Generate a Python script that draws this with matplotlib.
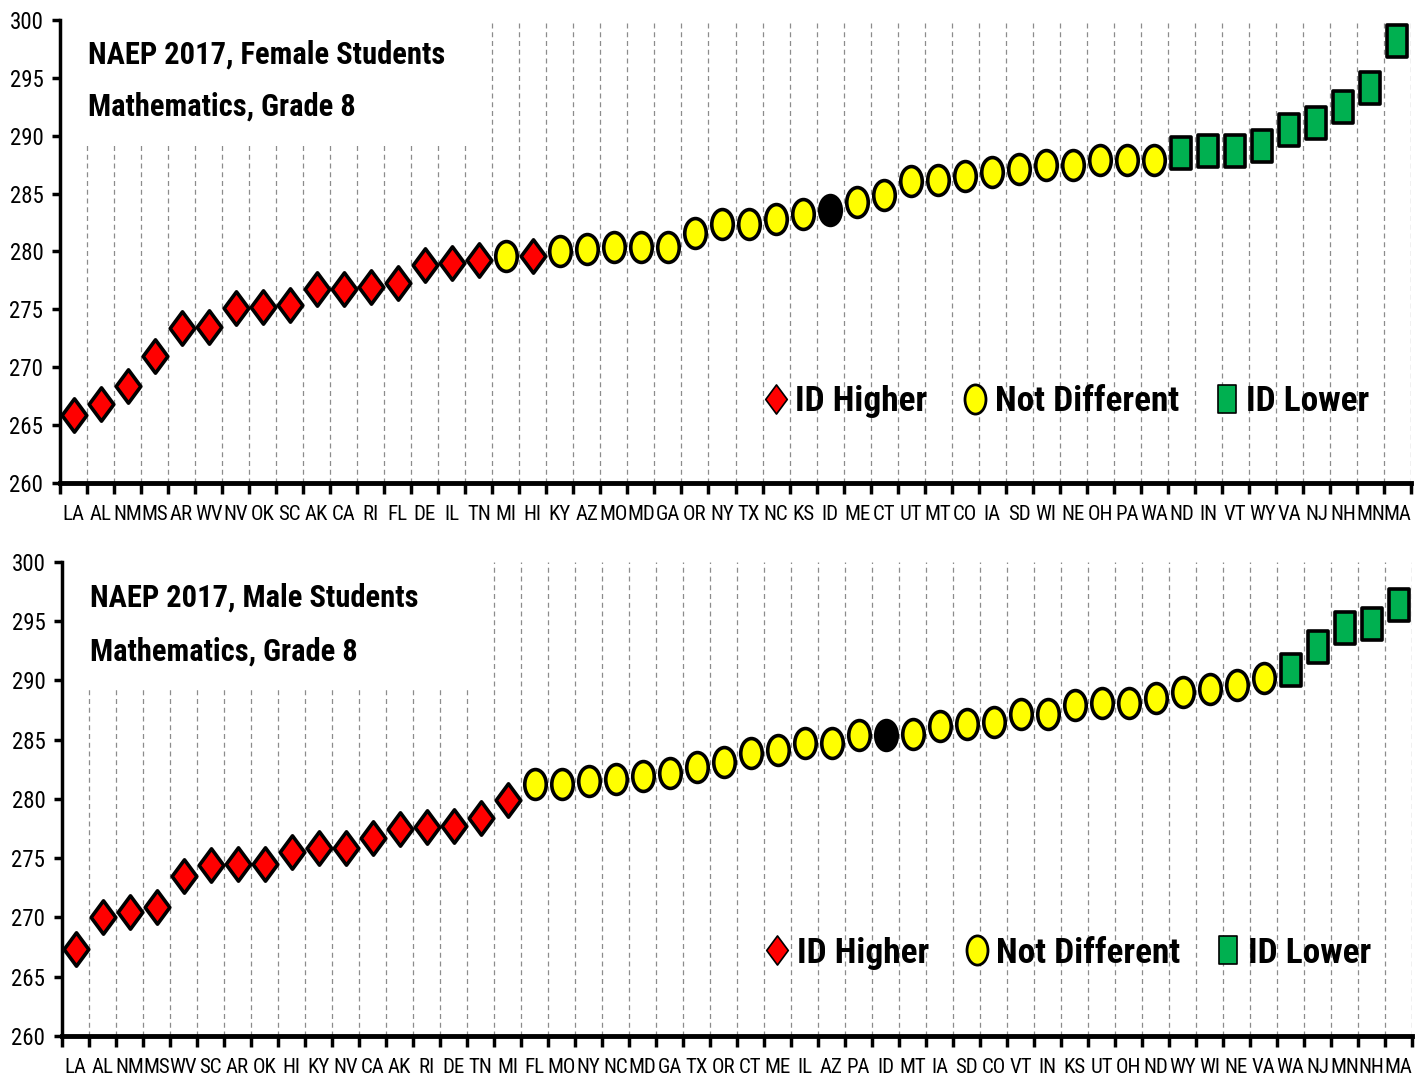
import numpy as np
import matplotlib
matplotlib.use('Agg')
import matplotlib.pyplot as plt
from matplotlib.path import Path
from matplotlib.lines import Line2D
from matplotlib import font_manager

# state order and scores
female_states = ['LA', 'AL', 'NM', 'MS', 'AR', 'WV', 'NV', 'OK', 'SC', 'AK',
                 'CA', 'RI', 'FL', 'DE', 'IL', 'TN', 'MI', 'HI', 'KY', 'AZ',
                 'MO', 'MD', 'GA', 'OR', 'NY', 'TX', 'NC', 'KS', 'ID', 'ME',
                 'CT', 'UT', 'MT', 'CO', 'IA', 'SD', 'WI', 'NE', 'OH', 'PA',
                 'WA', 'ND', 'IN', 'VT', 'WY', 'VA', 'NJ', 'NH', 'MN', 'MA']
female_scores = [265.9, 266.8, 268.4, 271.0, 273.4, 273.5, 275.1, 275.2, 275.4, 276.8,
                 276.8, 276.9, 277.3, 278.8, 279.0, 279.3, 279.6, 279.6, 280.0, 280.2,
                 280.4, 280.4, 280.4, 281.6, 282.4, 282.4, 282.8, 283.2, 283.6, 284.3,
                 284.9, 286.1, 286.2, 286.5, 286.9, 287.1, 287.5, 287.5, 287.9, 287.9,
                 287.9, 288.5, 288.7, 288.7, 289.1, 290.5, 291.1, 292.5, 294.1, 298.2]
# H = ID higher, N = not different, L = ID lower, ID = Idaho itself
female_status = ['H', 'H', 'H', 'H', 'H', 'H', 'H', 'H', 'H', 'H',
                 'H', 'H', 'H', 'H', 'H', 'H', 'N', 'H', 'N', 'N',
                 'N', 'N', 'N', 'N', 'N', 'N', 'N', 'N', 'ID', 'N',
                 'N', 'N', 'N', 'N', 'N', 'N', 'N', 'N', 'N', 'N',
                 'N', 'L', 'L', 'L', 'L', 'L', 'L', 'L', 'L', 'L']

male_states = ['LA', 'AL', 'NM', 'MS', 'WV', 'SC', 'AR', 'OK', 'HI', 'KY',
               'NV', 'CA', 'AK', 'RI', 'DE', 'TN', 'MI', 'FL', 'MO', 'NY',
               'NC', 'MD', 'GA', 'TX', 'OR', 'CT', 'ME', 'IL', 'AZ', 'PA',
               'ID', 'MT', 'IA', 'SD', 'CO', 'VT', 'IN', 'KS', 'UT', 'OH',
               'ND', 'WY', 'WI', 'NE', 'VA', 'WA', 'NJ', 'MN', 'NH', 'MA']
male_scores = [267.3, 270.0, 270.5, 270.9, 273.5, 274.4, 274.5, 274.5, 275.5, 275.9,
               275.9, 276.7, 277.5, 277.6, 277.7, 278.4, 279.9, 281.3, 281.3, 281.5,
               281.7, 281.9, 282.2, 282.7, 283.1, 283.9, 284.1, 284.7, 284.7, 285.4,
               285.4, 285.5, 286.2, 286.3, 286.5, 287.2, 287.2, 287.9, 288.1, 288.1,
               288.5, 289.0, 289.3, 289.6, 290.2, 290.9, 292.8, 294.4, 294.8, 296.4]
male_status = ['H', 'H', 'H', 'H', 'H', 'H', 'H', 'H', 'H', 'H',
               'H', 'H', 'H', 'H', 'H', 'H', 'H', 'N', 'N', 'N',
               'N', 'N', 'N', 'N', 'N', 'N', 'N', 'N', 'N', 'N',
               'ID', 'N', 'N', 'N', 'N', 'N', 'N', 'N', 'N', 'N',
               'N', 'N', 'N', 'N', 'N', 'L', 'L', 'L', 'L', 'L']

legend_labels = ['ID Higher', 'Not Different', 'ID Lower']


def pick_font(cands):
    names = {f.name for f in font_manager.fontManager.ttflist}
    for c in cands:
        if c in names:
            return c
    return 'DejaVu Sans'


narrow = pick_font(['Liberation Sans Narrow', 'Roboto Condensed', 'Liberation Sans'])
shrink = 1.0 if 'Narrow' in narrow or 'Condensed' in narrow else 0.85

# markers: the original chart is squashed sideways, so shapes are taller than wide
diamond = Path([(0, 0.5), (0.37, 0), (0, -0.5), (-0.37, 0), (0, 0.5)],
               [Path.MOVETO, Path.LINETO, Path.LINETO, Path.LINETO, Path.CLOSEPOLY])
circ = Path.unit_circle()
ellipse = Path(circ.vertices * np.array([0.72, 1.0]), circ.codes)
rect = Path([(-0.33, -0.5), (0.33, -0.5), (0.33, 0.5), (-0.33, 0.5), (-0.33, -0.5)],
            [Path.MOVETO, Path.LINETO, Path.LINETO, Path.LINETO, Path.CLOSEPOLY])

styles = {
    'H': dict(marker=diamond, ms=24, mfc='#FF0000'),
    'N': dict(marker=ellipse, ms=21.5, mfc='#FFFF00'),
    'L': dict(marker=rect, ms=22.5, mfc='#00B050'),
    'ID': dict(marker=ellipse, ms=21.5, mfc='black'),
}


def draw_panel(ax, states, scores, status, title):
    x = np.arange(len(states))
    y = np.array(scores)
    st = np.array(status)

    # dashed separators, shortened under the title block
    for b in np.arange(0.5, len(states), 1.0):
        top = 289.5 if b < 15 else 300
        ax.plot([b, b], [260, top], color='#8c8c8c', lw=0.9, ls=(0, (4, 3)), zorder=1)

    for key, s in styles.items():
        m = st == key
        ax.plot(x[m], y[m], ls='none', mec='black', mew=2.6, zorder=3, **s)

    ax.set_xlim(-0.5, len(states) - 0.5)
    ax.set_ylim(260, 300)
    ax.set_yticks(np.arange(260, 301, 5))
    ax.set_xticks(x)
    ax.set_xticklabels(states, fontfamily=narrow, fontsize=15 * shrink)
    ax.set_xticks(np.arange(-0.5, len(states), 1.0), minor=True)
    ax.tick_params(axis='x', which='major', length=0, pad=16)
    ax.tick_params(axis='x', which='minor', length=8, width=2.5, direction='out')
    ax.tick_params(axis='y', length=6, width=2.5, direction='out', pad=6)
    for lab in ax.get_yticklabels():
        lab.set_fontfamily(narrow)
        lab.set_fontsize(16.5 * shrink)
    ax.spines['top'].set_visible(False)
    ax.spines['right'].set_visible(False)
    ax.spines['left'].set_linewidth(2.5)
    ax.spines['bottom'].set_linewidth(3.5)

    ax.text(0.021, 0.907, title, transform=ax.transAxes, fontfamily=narrow,
            fontweight='bold', fontsize=22 * shrink, va='baseline', zorder=4)
    ax.text(0.021, 0.793, 'Mathematics, Grade 8', transform=ax.transAxes, fontfamily=narrow,
            fontweight='bold', fontsize=22 * shrink, va='baseline', zorder=4)

    handles = [
        Line2D([], [], ls='none', marker=diamond, ms=21, mfc='#FF0000', mec='black', mew=1.2),
        Line2D([], [], ls='none', marker=ellipse, ms=21, mfc='#FFFF00', mec='black', mew=2.0),
        Line2D([], [], ls='none', marker=rect, ms=20, mfc='#00B050', mec='black', mew=1.2),
    ]
    ax.legend(handles, legend_labels, loc='center left', bbox_to_anchor=(0.522, 0.175),
              ncol=3, frameon=False, handlelength=0.6, handletextpad=0.25,
              columnspacing=1.05, borderaxespad=0, borderpad=0,
              prop=dict(family=narrow, weight='bold', size=25.5 * shrink))


fig = plt.figure(figsize=(14.22, 10.84), dpi=100)
ax1 = fig.add_axes([60 / 1422, 1 - 483 / 1084, 1351 / 1422, 463 / 1084])
ax2 = fig.add_axes([62 / 1422, 48 / 1084, 1350 / 1422, 474 / 1084])

draw_panel(ax1, female_states, female_scores, female_status, 'NAEP 2017, Female Students')
draw_panel(ax2, male_states, male_scores, male_status, 'NAEP 2017, Male Students')

fig.savefig('out.png', dpi=100)
